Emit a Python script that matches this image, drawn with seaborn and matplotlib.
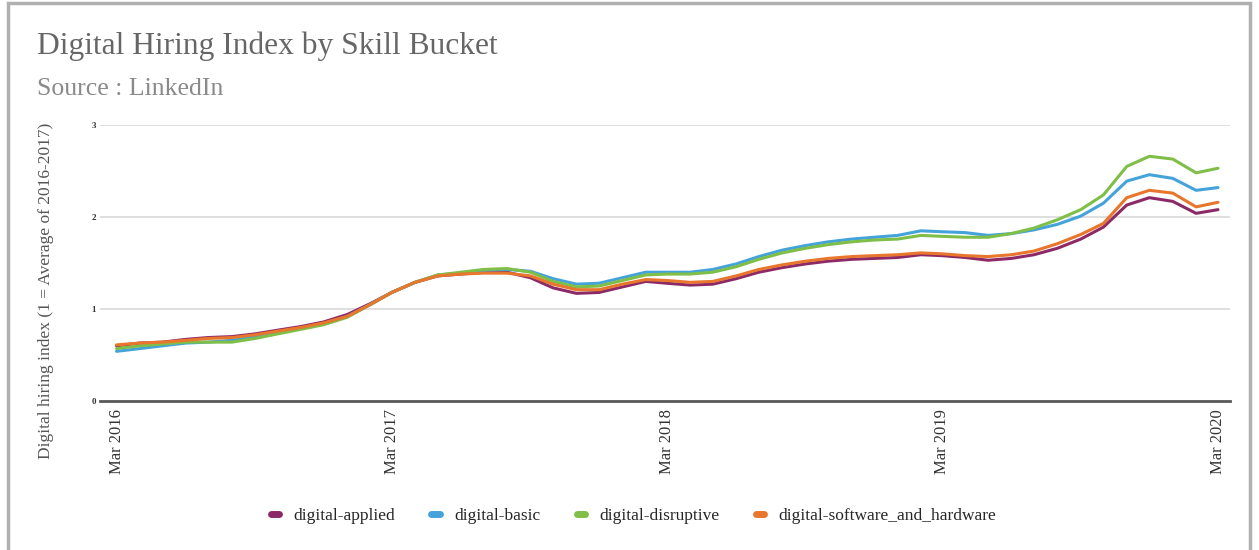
import pandas as pd
import numpy as np
import matplotlib
matplotlib.use("Agg")
import matplotlib.pyplot as plt
import matplotlib.dates as mdates
from matplotlib.patches import Rectangle
import seaborn as sns

# monthly values, Mar 2016 .. Mar 2020
months = pd.date_range("2016-03-01", periods=49, freq="MS")

applied = [0.60, 0.63, 0.64, 0.67, 0.69, 0.70, 0.73, 0.77, 0.81, 0.86,
           0.94, 1.06, 1.18, 1.29, 1.36, 1.38, 1.40, 1.40, 1.34, 1.23,
           1.17, 1.18, 1.24, 1.30, 1.28, 1.26, 1.27, 1.33, 1.40, 1.45,
           1.49, 1.52, 1.54, 1.55, 1.56, 1.59, 1.58, 1.56, 1.53, 1.55,
           1.59, 1.66, 1.76, 1.89, 2.13, 2.21, 2.17, 2.04, 2.08]
basic = [0.54, 0.57, 0.60, 0.63, 0.64, 0.66, 0.70, 0.75, 0.79, 0.84,
         0.92, 1.05, 1.18, 1.29, 1.37, 1.39, 1.42, 1.43, 1.41, 1.33,
         1.27, 1.28, 1.34, 1.40, 1.40, 1.40, 1.43, 1.49, 1.57, 1.64,
         1.69, 1.73, 1.76, 1.78, 1.80, 1.85, 1.84, 1.83, 1.80, 1.82,
         1.86, 1.92, 2.01, 2.15, 2.39, 2.46, 2.42, 2.29, 2.32]
disruptive = [0.57, 0.60, 0.62, 0.64, 0.64, 0.64, 0.68, 0.73, 0.78, 0.83,
              0.91, 1.05, 1.18, 1.29, 1.37, 1.40, 1.43, 1.44, 1.40, 1.30,
              1.24, 1.25, 1.31, 1.37, 1.38, 1.38, 1.40, 1.46, 1.54, 1.61,
              1.66, 1.70, 1.73, 1.75, 1.76, 1.80, 1.79, 1.78, 1.78, 1.82,
              1.88, 1.97, 2.08, 2.24, 2.55, 2.66, 2.63, 2.48, 2.53]
software = [0.61, 0.63, 0.64, 0.66, 0.68, 0.69, 0.72, 0.76, 0.80, 0.85,
            0.92, 1.05, 1.18, 1.29, 1.36, 1.38, 1.39, 1.39, 1.36, 1.27,
            1.21, 1.21, 1.27, 1.32, 1.31, 1.29, 1.30, 1.36, 1.43, 1.48,
            1.52, 1.55, 1.57, 1.58, 1.59, 1.61, 1.60, 1.58, 1.57, 1.59,
            1.63, 1.71, 1.81, 1.93, 2.21, 2.29, 2.26, 2.11, 2.16]

buckets = ["digital-applied", "digital-basic", "digital-disruptive",
           "digital-software_and_hardware"]
colors = ["#8c2a67", "#44a3da", "#7fbf48", "#e8762c"]
y_ticks = [0, 1, 2, 3]

df = pd.DataFrame({"month": months, buckets[0]: applied, buckets[1]: basic,
                   buckets[2]: disruptive, buckets[3]: software})
long = df.melt(id_vars="month", var_name="bucket", value_name="index")

sns.set_theme(style="white")
plt.rcParams["font.family"] = ["Liberation Serif", "DejaVu Serif"]

fig = plt.figure(figsize=(12.59, 5.5), dpi=100)
ax = fig.add_axes([0.0794, 0.2709, 0.8976, 0.5018])

sns.lineplot(data=long, x="month", y="index", hue="bucket", hue_order=buckets,
             palette=colors, linewidth=2.2, ax=ax, legend=False)

ax.set_ylim(0, 3)
ax.set_yticks(y_ticks)
ax.set_yticklabels([str(t) for t in y_ticks], fontsize=6.5, fontweight="bold",
                   color="#333333")
ax.yaxis.grid(True, color="#dcdcdc", linewidth=1.3)
ax.set_axisbelow(True)
for s in ["top", "right", "left"]:
    ax.spines[s].set_visible(False)
ax.spines["bottom"].set_color("#5a5a5a")
ax.spines["bottom"].set_linewidth(2)

ax.set_xlim(months[0] - pd.Timedelta(days=22), months[-1] + pd.Timedelta(days=16))
ax.xaxis.set_major_locator(mdates.MonthLocator(bymonth=3))
ax.xaxis.set_major_formatter(mdates.DateFormatter("%b %Y"))
ax.tick_params(axis="x", labelrotation=90, labelsize=12, labelcolor="#333333",
               length=0, pad=6)
ax.tick_params(axis="y", length=0, pad=3)
ax.set_xlabel("")
ax.set_ylabel("Digital hiring index (1 = Average of 2016-2017)", fontsize=12.5,
              color="#555555")
ax.yaxis.set_label_coords(-0.041, 0.40)

fig.text(0.029, 0.916, "Digital Hiring Index by Skill Bucket", fontsize=22.7,
         color="#666666", va="center")
fig.text(0.029, 0.838, "Source : LinkedIn", fontsize=18.5, color="#8a8a8a",
         va="center")

handles = [plt.Line2D([], [], color=c, linewidth=5, solid_capstyle="round")
           for c in colors]
fig.legend(handles, buckets, loc="center", bbox_to_anchor=(0.503, 0.062),
           ncol=4, frameon=False, fontsize=12.5, handlelength=0.5,
           columnspacing=2.1, handletextpad=0.8)

fig.patches.append(Rectangle((8 / 1259, -0.1), 1242 / 1259, 1.1 - 3 / 550,
                             transform=fig.transFigure, fill=False,
                             edgecolor="#b0b0b0", linewidth=2.5))

fig.savefig("out.png", dpi=100)
